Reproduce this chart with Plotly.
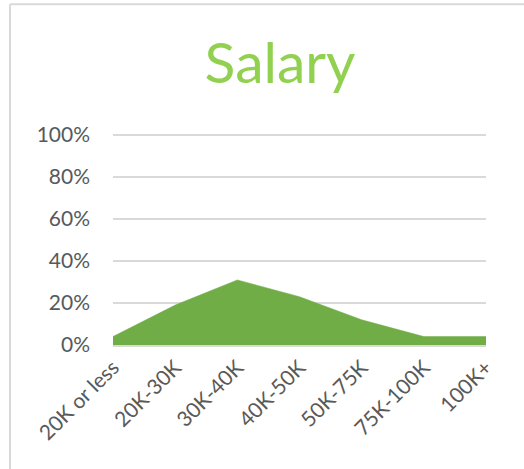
import plotly.graph_objects as go

categories = ["20K or less", "20K-30K", "30K-40K", "40K-50K", "50K-75K", "75K-100K", "100K+"]
values = [0.04, 0.19, 0.31, 0.23, 0.12, 0.04, 0.04]
y_ticks = [0, 0.2, 0.4, 0.6, 0.8, 1.0]
y_tick_labels = ["0%", "20%", "40%", "60%", "80%", "100%"]

W, H = 524, 469
L, B = 113, 124
PW, PH = 373, 212.1  # plot size; y range top 1.01 -> 1.0 at 210px
fig = go.Figure()
fig.add_trace(go.Scatter(
    x=list(range(len(categories))), y=values,
    mode="lines", fill="tozeroy",
    line=dict(color="#70AD47", width=0.5),
    fillcolor="#70AD47",
    hoverinfo="x+y",
))

fig.update_layout(
    width=W, height=H,
    margin=dict(l=L, r=W - L - PW, t=H - B - PH, b=B),
    paper_bgcolor="white", plot_bgcolor="white",
    showlegend=False,
    font=dict(family="Lato, Carlito, sans-serif", color="#595959"),
    title=dict(text="Salary", x=280 / W, xanchor="center", y=1 - 63 / H, yanchor="middle",
               font=dict(size=57, color="#92D050", family="Lato, Carlito, sans-serif")),
    xaxis=dict(
        range=[0, len(categories) - 1],
        tickvals=list(range(len(categories))), ticktext=categories,
        tickangle=-45, showgrid=False, zeroline=False,
        showline=True, linecolor="#D9D9D9", linewidth=2,
        tickfont=dict(size=21, color="#595959"),
        ticks="", fixedrange=True, automargin=False,
    ),
    yaxis=dict(
        range=[0, 1.01], tickvals=y_ticks, ticktext=y_tick_labels,
        showgrid=True, gridcolor="#D9D9D9", gridwidth=1.5,
        zeroline=False, showline=False,
        tickfont=dict(size=21, color="#595959"), ticks="",
        ticklabelstandoff=22, fixedrange=True, automargin=False,
    ),
    shapes=[
        dict(type="line", xref="paper", yref="paper", x0=-103 / PW, x1=(W - L) / PW,
             y0=(H - B - 4) / PH, y1=(H - B - 4) / PH, line=dict(color="#D9D9D9", width=2)),
        dict(type="line", xref="paper", yref="paper", x0=-103 / PW, x1=-103 / PW,
             y0=(H - B - 4) / PH, y1=-B / PH, line=dict(color="#D9D9D9", width=2)),
    ],
)
fig.write_html("out.html", config={"displayModeBar": False},
               post_script="document.body.style.margin='0';")
